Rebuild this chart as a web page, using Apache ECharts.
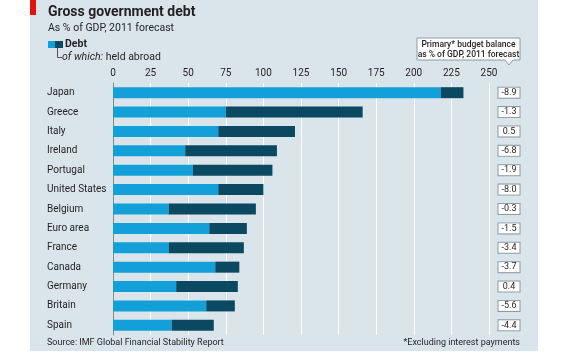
<!DOCTYPE html>
<html>
<head>
<meta charset="utf-8">
<script src="https://cdn.jsdelivr.net/npm/echarts@6/dist/echarts.min.js"></script>
<style>
  html, body { margin: 0; padding: 0; background: #fff; }
  #chart { width: 570px; height: 352px; }
</style>
</head>
<body>
<div id="chart"></div>
<script>
  // data (% of GDP)
  const countries = ['Japan', 'Greece', 'Italy', 'Ireland', 'Portugal', 'United States', 'Belgium',
    'Euro area', 'France', 'Canada', 'Germany', 'Britain', 'Spain']
  const heldAtHome = [218, 75, 70, 48, 53, 70, 37, 64, 37, 68, 42, 62, 39]
  const heldAbroad = [15, 91, 51, 61, 53, 30, 58, 25, 50, 16, 41, 19, 28]
  const primaryBalance = ['-8.9', '-1.3', '0.5', '-6.8', '-1.9', '-8.0', '-0.3',
    '-1.5', '-3.4', '-3.7', '0.4', '-5.6', '-4.4']
  const xTicks = [0, 25, 50, 75, 100, 125, 150, 175, 200, 225, 250]

  const FONT = 'Roboto, sans-serif'
  const LIGHT = '#139fd7'
  const DARK = '#0b4862'
  const PANEL = '#d9e5eb'
  const TEXT = '#231f20'

  const chart = echarts.init(document.getElementById('chart'), null, { renderer: 'canvas' })

  chart.setOption({
    backgroundColor: '#fff',
    animation: false,
    textStyle: { fontFamily: FONT },
    grid: { left: 113, right: 81, top: 83, bottom: 17 },
    xAxis: {
      type: 'value',
      position: 'top',
      min: xTicks[0],
      max: xTicks[xTicks.length - 1],
      interval: 25,
      axisLine: { show: false },
      axisTick: { show: false },
      axisLabel: { color: TEXT, fontSize: 10, margin: 5, fontFamily: FONT },
      splitLine: { lineStyle: { color: '#fff', width: 1 } }
    },
    yAxis: [
      {
        type: 'category',
        inverse: true,
        data: countries,
        axisLine: { show: true, lineStyle: { color: '#7d8d97', width: 1 } },
        axisTick: { show: false },
        axisLabel: { color: TEXT, fontSize: 10, align: 'left', margin: 66, fontFamily: FONT }
      },
      {
        type: 'category',
        inverse: true,
        position: 'right',
        data: primaryBalance,
        axisLine: { show: false },
        axisTick: { show: false },
        axisLabel: {
          color: TEXT,
          fontSize: 9,
          fontFamily: FONT,
          align: 'center',
          margin: 20,
          width: 15,
          backgroundColor: '#fff',
          borderColor: '#8c9aa3',
          borderWidth: 1,
          padding: [1, 3, 0, 3]
        }
      }
    ],
    series: [
      {
        name: 'Debt',
        type: 'bar',
        stack: 'debt',
        barWidth: 11,
        itemStyle: { color: LIGHT },
        data: heldAtHome
      },
      {
        name: 'held abroad',
        type: 'bar',
        stack: 'debt',
        barWidth: 11,
        itemStyle: { color: DARK },
        data: heldAbroad
      }
    ],
    graphic: [
      // panel background
      { type: 'rect', z: -10, silent: true, shape: { x: 30, y: 0, width: 508, height: 351 }, style: { fill: PANEL } },
      { type: 'rect', z: 10, shape: { x: 30, y: 0, width: 6, height: 15 }, style: { fill: '#e3120b' } },
      {
        type: 'text', left: 48, top: 5,
        style: { text: 'Gross government debt', fill: TEXT, font: 'bold 14px ' + FONT }
      },
      {
        type: 'text', left: 48, top: 23,
        style: { text: 'As % of GDP, 2011 forecast', fill: TEXT, font: '10.5px ' + FONT }
      },
      // legend
      { type: 'rect', shape: { x: 48, y: 41, width: 7, height: 7 }, style: { fill: LIGHT } },
      { type: 'rect', shape: { x: 55, y: 41, width: 8, height: 7 }, style: { fill: DARK } },
      {
        type: 'text', left: 65, top: 39,
        style: { text: 'Debt', fill: TEXT, font: 'bold 10.5px ' + FONT }
      },
      {
        type: 'polyline',
        shape: { points: [[57.5, 48], [57.5, 57.5], [62, 57.5]] },
        style: { stroke: '#555', lineWidth: 1, fill: null }
      },
      {
        type: 'text', left: 62, top: 52,
        style: {
          text: '{i|of which:} held abroad',
          fill: TEXT,
          font: '10.5px ' + FONT,
          rich: { i: { fontStyle: 'italic', fontSize: 10.5, fontFamily: FONT, fill: TEXT } }
        }
      },
      // callout box for the right column
      {
        type: 'polygon',
        shape: { points: [[417, 38], [520, 38], [520, 60], [513, 60], [509, 65], [505, 60], [417, 60]] },
        style: { fill: '#fff', stroke: '#8c9aa3', lineWidth: 1 }
      },
      {
        type: 'text', x: 468.5, y: 39.5,
        style: {
          text: 'Primary* budget balance\nas % of GDP, 2011 forecast',
          fill: TEXT, font: '500 8.5px ' + FONT, align: 'center', lineHeight: 10
        }
      },
      {
        type: 'text', left: 47, top: 338,
        style: { text: 'Source: IMF Global Financial Stability Report', fill: TEXT, font: '9px ' + FONT }
      },
      {
        type: 'text', right: 50, top: 338,
        style: { text: '*Excluding interest payments', fill: TEXT, font: '9px ' + FONT }
      }
    ]
  })
</script>
</body>
</html>
